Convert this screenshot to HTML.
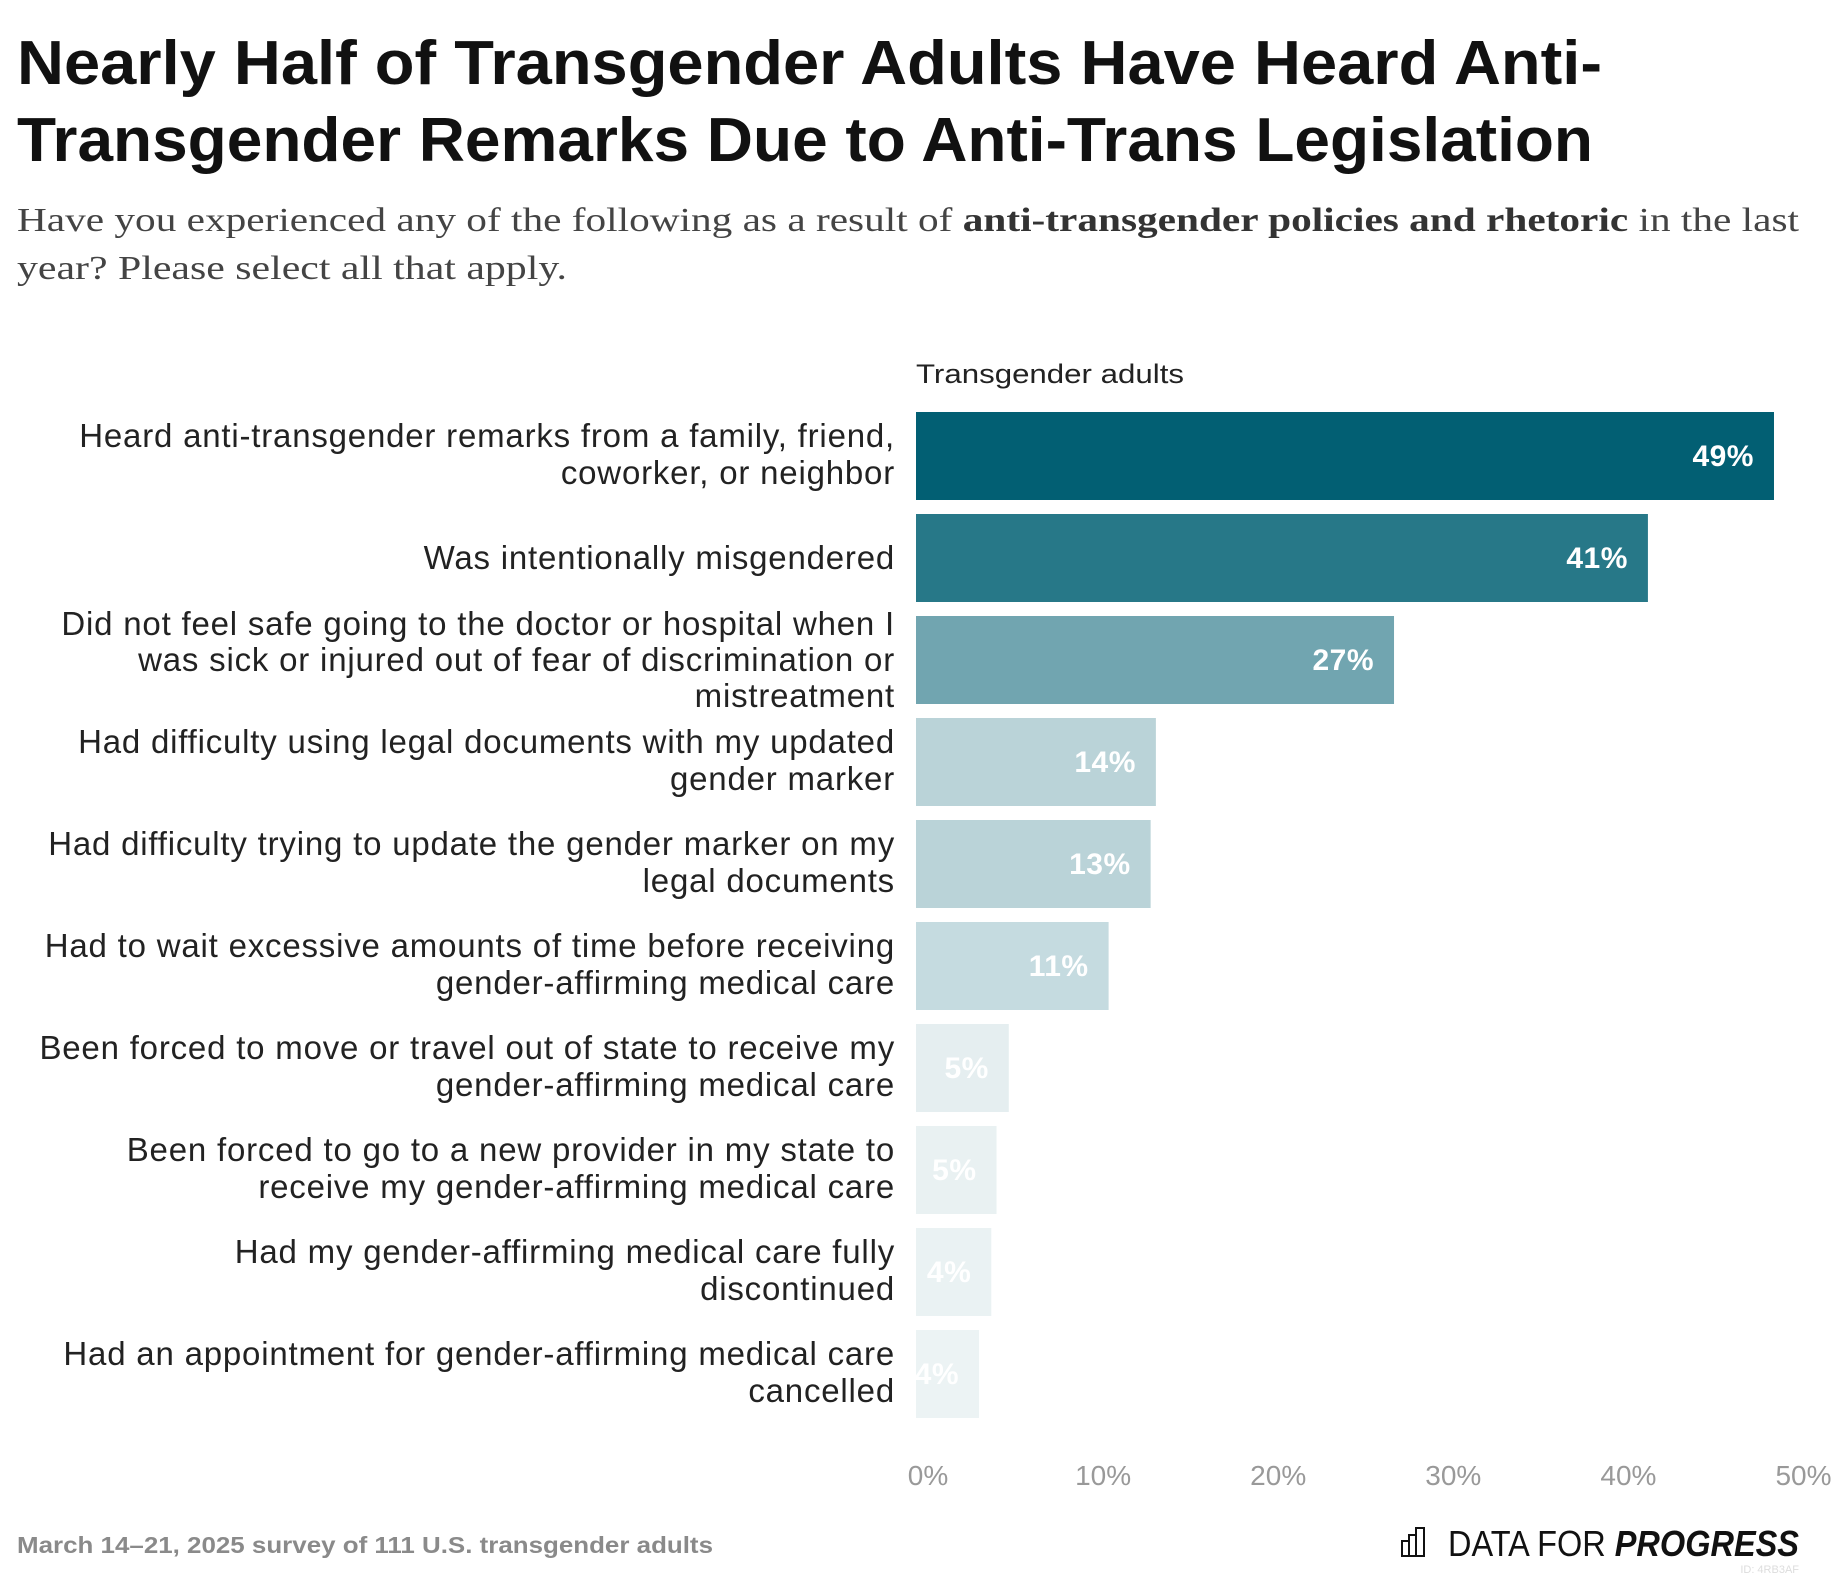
<!DOCTYPE html>
<html><head><meta charset="utf-8"><style>
html,body{margin:0;padding:0;background:#fff;}
svg{display:block;}
text{font-family:"Liberation Sans",sans-serif;}
</style></head><body>
<svg id="chart" width="1840" height="1578" viewBox="0 0 1840 1578" xmlns="http://www.w3.org/2000/svg">
<text x="17" y="84" font-size="62" font-weight="bold" fill="#111" textLength="1585" lengthAdjust="spacingAndGlyphs">Nearly Half of Transgender Adults Have Heard Anti-</text>
<text x="17" y="161" font-size="62" font-weight="bold" fill="#111" textLength="1576" lengthAdjust="spacingAndGlyphs">Transgender Remarks Due to Anti-Trans Legislation</text>
<text x="17" y="231" font-size="34" fill="#444" style="font-family:'Liberation Serif',serif" textLength="1782" lengthAdjust="spacingAndGlyphs">Have you experienced any of the following as a result of <tspan font-weight="bold" fill="#333">anti-transgender policies and rhetoric</tspan> in the last</text>
<text x="17" y="279" font-size="34" fill="#444" style="font-family:'Liberation Serif',serif" textLength="550" lengthAdjust="spacingAndGlyphs">year? Please select all that apply.</text>
<text x="916" y="383" font-size="27" fill="#222" textLength="268" lengthAdjust="spacingAndGlyphs">Transgender adults</text>
<g id="bars"></g>
<g id="axis"></g>
<text x="17" y="1553" font-size="23" font-weight="bold" fill="#8a8a8a" textLength="696" lengthAdjust="spacingAndGlyphs">March 14–21, 2025 survey of 111 U.S. transgender adults</text>
<g>
<rect x="1402" y="1541" width="7" height="15" fill="none" stroke="#111" stroke-width="2"/>
<rect x="1409" y="1535" width="7" height="21" fill="none" stroke="#111" stroke-width="2"/>
<rect x="1416" y="1528" width="8" height="28" fill="none" stroke="#111" stroke-width="2"/>
<text x="1448" y="1556" font-size="36" fill="#111" textLength="351" lengthAdjust="spacingAndGlyphs"><tspan font-weight="300">DATA FOR </tspan><tspan font-weight="bold" font-style="italic">PROGRESS</tspan></text>
</g>
<text x="1799" y="1573" font-size="11" text-anchor="end" fill="#ddd">ID: 4RB3AF</text>
</svg>
<script>
const categories = [
 ["Heard anti-transgender remarks from a family, friend,","coworker, or neighbor"],
 ["Was intentionally misgendered"],
 ["Did not feel safe going to the doctor or hospital when I","was sick or injured out of fear of discrimination or","mistreatment"],
 ["Had difficulty using legal documents with my updated","gender marker"],
 ["Had difficulty trying to update the gender marker on my","legal documents"],
 ["Had to wait excessive amounts of time before receiving","gender-affirming medical care"],
 ["Been forced to move or travel out of state to receive my","gender-affirming medical care"],
 ["Been forced to go to a new provider in my state to","receive my gender-affirming medical care"],
 ["Had my gender-affirming medical care fully","discontinued"],
 ["Had an appointment for gender-affirming medical care","cancelled"]
];
const values = [49.0, 41.8, 27.3, 13.7, 13.4, 11.0, 5.3, 4.6, 4.3, 3.6];
const valueLabels = ["49%","41%","27%","14%","13%","11%","5%","5%","4%","4%"];
const colors = ["#025f73","#277888","#71a5b0","#bad3d8","#bad3d8","#c5dbe0","#e5eef0","#e9f1f2","#eaf2f3","#ecf3f4"];
const ticks = [0,10,20,30,40,50];
const tickLabels = ["0%","10%","20%","30%","40%","50%"];

const NS="http://www.w3.org/2000/svg";
const x0=916, pxPer=17.51, top0=412, pitch=102, bh=88;
const xScale=v=>x0+v*pxPer;
const yBand=i=>top0+i*pitch;
const bars=document.getElementById('bars');
const axis=document.getElementById('axis');
function mk(tag,attrs,parent){const e=document.createElementNS(NS,tag);for(const k in attrs)e.setAttribute(k,attrs[k]);parent.appendChild(e);return e;}
const offs={1:[11],2:[-9,28],3:[-25,11,47]};
categories.forEach((lines,i)=>{
  const c=yBand(i)+bh/2;
  const r=mk('rect',{x:x0,y:yBand(i),width:xScale(values[i])-x0,height:bh,fill:colors[i]},bars);
  
  
  const v=mk('text',{x:xScale(values[i])-20,y:c+10,'font-size':30,'font-weight':'bold',fill:'#fff','text-anchor':'end','letter-spacing':'0.5'},bars);
  v.textContent=valueLabels[i];
  
  
  const t=mk('text',{x:895,'font-size':33,fill:'#222','text-anchor':'end','letter-spacing':'0.8'},bars);
  
  
  lines.forEach((ln,j)=>{const s=mk('tspan',{x:895,y:c+offs[lines.length][j]},t);s.textContent=ln;});
});
ticks.forEach((tk,i)=>{
  const t=mk('text',{x:xScale(tk)+12,y:1485,'font-size':28,fill:'#999','text-anchor':'middle'},axis);
  t.textContent=tickLabels[i];
  
  
});
</script>
</body></html>
